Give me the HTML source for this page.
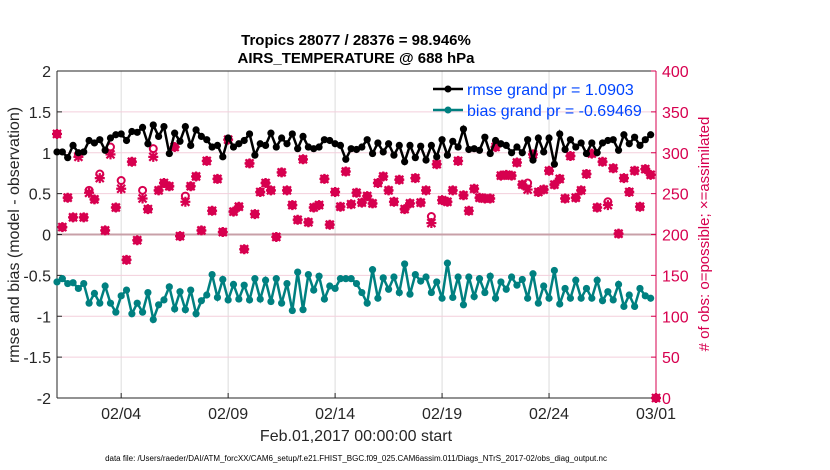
<!DOCTYPE html>
<html><head><meta charset="utf-8"><style>
body{margin:0;background:#fff;}
svg{display:block;font-family:"Liberation Sans",sans-serif;}
</style></head><body>
<svg id="chart" width="830" height="470"></svg>
<script>
const rmse=[1.01,1.01,0.94,1.09,1.00,1.01,1.15,1.12,1.16,1.03,1.18,1.22,1.23,1.15,1.26,1.25,1.31,1.11,1.34,1.20,1.32,0.99,1.24,1.14,1.32,1.09,1.28,1.20,1.16,1.07,1.09,0.95,1.18,1.07,1.11,1.15,1.23,0.97,1.11,1.09,1.24,1.07,1.18,1.11,1.23,1.05,1.20,1.07,1.05,1.07,1.16,1.15,1.11,1.09,0.92,1.05,1.04,1.07,
1.16,0.99,1.12,1.01,1.11,0.97,1.09,0.89,1.09,0.94,1.08,0.91,1.09,0.95,1.16,0.97,1.14,1.07,1.29,1.04,1.05,1.03,1.19,0.99,1.15,1.11,1.09,1.00,1.07,1.00,1.16,0.91,1.18,1.01,1.18,0.86,1.23,1.04,1.16,1.07,1.12,0.99,1.12,1.00,1.12,1.15,1.16,1.03,1.22,1.11,1.19,1.09,1.16,1.22];
const bias=[-0.58,-0.54,-0.60,-0.59,-0.66,-0.60,-0.84,-0.72,-0.84,-0.63,-0.84,-0.95,-0.75,-0.68,-0.97,-0.84,-0.95,-0.71,-1.04,-0.86,-0.80,-0.64,-0.91,-0.70,-0.92,-0.68,-0.97,-0.81,-0.74,-0.49,-0.77,-0.55,-0.80,-0.61,-0.79,-0.62,-0.80,-0.54,-0.79,-0.56,-0.82,-0.54,-0.84,-0.60,-0.93,-0.46,-0.92,-0.49,-0.68,-0.51,-0.79,-0.63,-0.66,-0.54,-0.54,-0.54,-0.60,-0.71,
-0.84,-0.43,-0.78,-0.53,-0.67,-0.52,-0.71,-0.36,-0.73,-0.49,-0.57,-0.52,-0.71,-0.58,-0.78,-0.35,-0.77,-0.52,-0.86,-0.52,-0.76,-0.54,-0.71,-0.51,-0.78,-0.58,-0.67,-0.52,-0.62,-0.55,-0.78,-0.48,-0.84,-0.63,-0.78,-0.44,-0.85,-0.66,-0.78,-0.56,-0.78,-0.66,-0.78,-0.56,-0.81,-0.70,-0.80,-0.61,-0.88,-0.74,-0.88,-0.66,-0.75,-0.78];
const nAssim=[323,209,245,221,295,221,251,243,269,205,298,233,256,169,289,193,244,231,295,254,263,259,307,198,240,259,271,205,290,229,268,203,316,228,234,182,287,225,252,263,254,197,276,254,236,218,292,215,233,236,268,212,252,234,277,237,251,239,
247,238,263,271,254,240,267,231,238,269,239,254,214,286,242,240,254,290,248,229,256,245,244,244,307,272,273,272,288,261,255,298,252,255,278,261,268,244,296,245,254,274,299,233,289,236,281,201,269,252,278,234,280,273,0];
const nPoss=[323,209,245,221,298,221,254,243,274,205,307,233,266,169,289,193,254,231,305,254,263,259,307,198,247,259,271,205,290,229,268,203,316,228,234,182,287,225,252,263,254,197,276,254,236,218,292,215,233,236,268,212,252,234,277,237,251,239,
247,238,263,271,254,240,267,231,238,269,239,254,222,286,242,240,254,290,248,229,256,245,244,244,307,272,273,272,288,261,263,298,252,255,278,261,268,244,296,245,254,274,299,233,289,240,281,201,269,252,278,234,280,273,0];
const dayTicks=[3,8,13,18,23,28];
const dayLabels=["02/04","02/09","02/14","02/19","02/24","03/01"];
const leftTicks=[-2,-1.5,-1,-0.5,0,0.5,1,1.5,2];
const rightTicks=[0,50,100,150,200,250,300,350,400];

const svg=document.getElementById('chart');
const NS='http://www.w3.org/2000/svg';
const X0=57,X1=656,Y0=71,Y1=398;
const xs=d=>X0+(X1-X0)*d/28;
const yl=v=>Y1-(v+2)/4*(Y1-Y0);
const yr=v=>Y1-v/400*(Y1-Y0);
const tOf=i=>i*0.25;
function mk(tag,attrs,parent){const e=document.createElementNS(NS,tag);for(const k in attrs)e.setAttribute(k,attrs[k]);(parent||svg).appendChild(e);return e;}
const MAG='#d7004f',TEAL='#008080',BLUE='#0044ff';

const grid=mk('g',{});


dayTicks.forEach(d=>mk('line',{x1:xs(d),x2:xs(d),y1:Y0,y2:Y1,stroke:'#dcdcdc','stroke-width':1},grid));
rightTicks.forEach(v=>mk('line',{x1:X0,x2:X1,y1:yr(v),y2:yr(v),stroke:'#f3cfdc','stroke-width':1},grid));
mk('line',{x1:X0,x2:X1,y1:yl(0),y2:yl(0),stroke:'#c8a0a8','stroke-width':2},grid);

const ax=mk('g',{});


mk('line',{x1:X0,x2:X0,y1:Y0,y2:Y1,stroke:'#262626'},ax);
mk('line',{x1:X0,x2:X1,y1:Y1,y2:Y1,stroke:'#262626'},ax);
mk('line',{x1:X0,x2:X1,y1:Y0,y2:Y0,stroke:'#262626'},ax);
mk('line',{x1:X1,x2:X1,y1:Y0,y2:Y1,stroke:MAG},ax);
leftTicks.forEach(v=>{
  mk('line',{x1:X0,x2:X0+5,y1:yl(v),y2:yl(v),stroke:'#262626'},ax);
  const t=mk('text',{x:X0-6,y:yl(v)+6,'text-anchor':'end','font-size':16,fill:'#262626'},ax);
  t.textContent=v;
  
  
});
rightTicks.forEach(v=>{
  mk('line',{x1:X1-5,x2:X1,y1:yr(v),y2:yr(v),stroke:MAG},ax);
  const t=mk('text',{x:X1+6,y:yr(v)+6,'font-size':16,fill:MAG},ax);
  t.textContent=v;
  
  
});
dayTicks.forEach((d,i)=>{
  mk('line',{x1:xs(d),x2:xs(d),y1:Y1,y2:Y1-5,stroke:'#262626'},ax);
  const t=mk('text',{x:xs(d),y:Y1+21,'text-anchor':'middle','font-size':16,fill:'#262626'},ax);
  t.textContent=dayLabels[i];
  
  
});

const obs=mk('g',{});


nPoss.forEach((v,i)=>{
  const c=mk('circle',{cx:xs(tOf(i)),cy:yr(v),r:3.5,fill:'none',stroke:MAG,'stroke-width':2},obs);
  
  
});
nAssim.forEach((v,i)=>{
  const x=xs(tOf(i)),y=yr(v);
  const g=mk('path',{d:`M${x-5},${y}H${x+5}M${x},${y-5}V${y+5}M${x-4},${y-4}L${x+4},${y+4}M${x-4},${y+4}L${x+4},${y-4}`,stroke:MAG,'stroke-width':2.2},obs);
  
  
});

function series(vals,color,name){
  const g=mk('g',{});
  
  
  mk('polyline',{points:vals.map((v,i)=>xs(tOf(i))+','+yl(v)).join(' '),fill:'none',stroke:color,'stroke-width':2.5},g);
  vals.forEach((v,i)=>{
    const c=mk('circle',{cx:xs(tOf(i)),cy:yl(v),r:3.6,fill:color},g);
    
    
  });
}
series(rmse,'#000','rmse-series');
series(bias,TEAL,'bias-series');

const lg=mk('g',{});


[[ '#000','rmse grand pr = 1.0903',89],[TEAL,'bias grand pr = -0.69469',110]].forEach(([c,txt,y])=>{
  mk('line',{x1:433,x2:463,y1:y,y2:y,stroke:c,'stroke-width':2.5},lg);
  mk('circle',{cx:448,cy:y,r:3.5,fill:c},lg);
  const t=mk('text',{x:467,y:y+6,'font-size':16,fill:BLUE},lg);
  t.textContent=txt;
  
  
});

function txt(s,attrs,name){const t=mk('text',attrs);t.textContent=s;return t;}
txt('Tropics 28077 / 28376 = 98.946%',{x:356,y:45,'text-anchor':'middle','font-size':15,'font-weight':'bold',fill:'#000'},'chart-title');
txt('AIRS_TEMPERATURE @ 688 hPa',{x:356,y:63,'text-anchor':'middle','font-size':15,'font-weight':'bold',fill:'#000'},'chart-subtitle');
txt('Feb.01,2017 00:00:00 start',{x:356,y:441,'text-anchor':'middle','font-size':16,fill:'#262626'},'x-axis-title');
txt('rmse and bias (model - observation)',{x:0,y:0,transform:'translate(19,235) rotate(-90)','text-anchor':'middle','font-size':16,fill:'#262626'},'y-axis-title');
txt('# of obs: o=possible; \u00d7=assimilated',{x:0,y:0,transform:'translate(709,234) rotate(-90)','text-anchor':'middle','font-size':15,fill:MAG},'right-axis-title');
txt('data file: /Users/raeder/DAI/ATM_forcXX/CAM6_setup/f.e21.FHIST_BGC.f09_025.CAM6assim.011/Diags_NTrS_2017-02/obs_diag_output.nc',{x:356,y:461,'text-anchor':'middle','font-size':8,fill:'#000'},'data-file-note');
</script>
</body></html>
